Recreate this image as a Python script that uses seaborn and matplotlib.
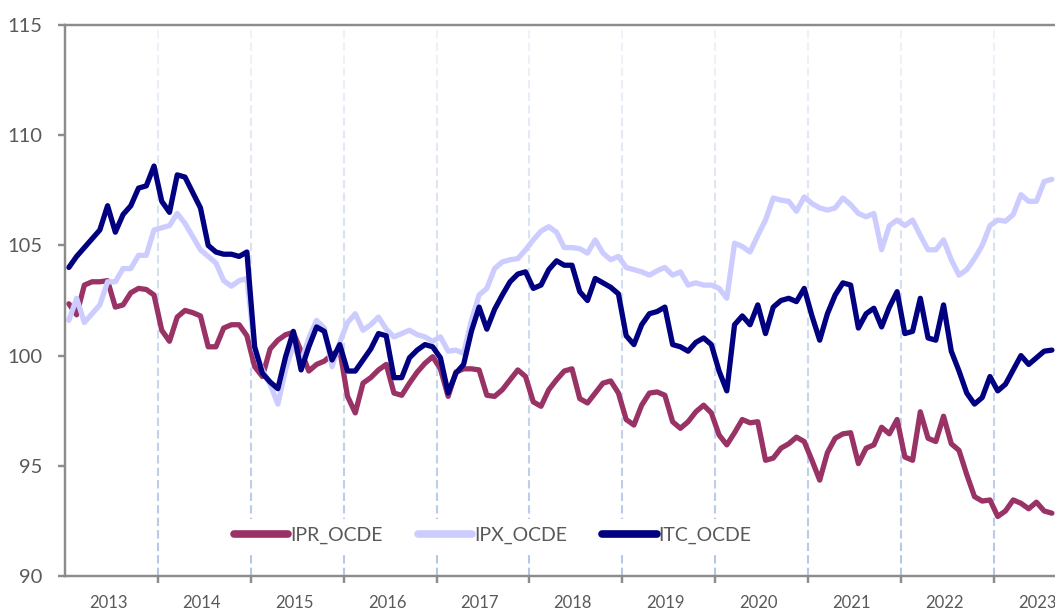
import numpy as np
import pandas as pd
import seaborn as sns
import matplotlib
matplotlib.use('Agg')
import matplotlib.pyplot as plt

# monthly index values, Jan 2013 -> Aug 2023
ipr_ocde = [102.35, 101.85, 103.2, 103.35, 103.35, 103.4, 102.2, 102.3, 102.85, 103.05, 103.0, 102.75,
            101.15, 100.65, 101.75, 102.05, 101.95, 101.8, 100.4, 100.4, 101.25, 101.4, 101.4, 100.9,
            99.5, 99.05, 100.3, 100.7, 100.95, 101.05, 100.2, 99.3, 99.6, 99.75, 100.05, 100.25,
            98.15, 97.4, 98.75, 99.0, 99.35, 99.6, 98.3, 98.2, 98.75, 99.25, 99.65, 99.95,
            99.4, 98.15, 99.25, 99.4, 99.4, 99.35, 98.2, 98.15, 98.45, 98.9, 99.35, 99.05,
            97.9, 97.7, 98.45, 98.9, 99.3, 99.4, 98.05, 97.85, 98.3, 98.75, 98.85, 98.3,
            97.1, 96.85, 97.75, 98.3, 98.35, 98.2, 97.0, 96.7, 97.0, 97.45, 97.75, 97.4,
            96.4, 95.95, 96.5, 97.1, 96.95, 97.0, 95.25, 95.35, 95.8, 96.0, 96.3, 96.1,
            95.25, 94.35, 95.6, 96.25, 96.45, 96.5, 95.1, 95.8, 95.95, 96.75, 96.45, 97.1,
            95.4, 95.25, 97.45, 96.25, 96.1, 97.25, 96.0, 95.7, 94.6, 93.6, 93.4, 93.45,
            92.7, 92.95, 93.45, 93.3, 93.05, 93.35, 92.95, 92.85]

ipx_ocde = [101.6, 102.6, 101.5, 101.9, 102.3, 103.35, 103.35, 103.95, 103.95, 104.55, 104.55, 105.7,
            105.8, 105.9, 106.45, 106.0, 105.4, 104.8, 104.5, 104.2, 103.4, 103.15, 103.4, 103.5,
            100.3, 99.35, 98.7, 97.8, 99.35, 100.5, 99.7, 100.8, 101.6, 101.25, 99.5, 100.6,
            101.5, 101.9, 101.15, 101.4, 101.75, 101.2, 100.85, 101.0, 101.15, 100.95, 100.85, 100.65,
            100.85, 100.2, 100.25, 100.1, 101.6, 102.75, 103.05, 103.95, 104.25, 104.35, 104.4, 104.8,
            105.25, 105.65, 105.85, 105.6, 104.9, 104.9, 104.85, 104.65, 105.25, 104.65, 104.35, 104.5,
            104.0, 103.9, 103.8, 103.65, 103.85, 104.0, 103.65, 103.8, 103.2, 103.3, 103.2, 103.2,
            103.05, 102.6, 105.1, 104.95, 104.7, 105.45, 106.15, 107.15, 107.05, 107.0, 106.55, 107.2,
            106.9, 106.7, 106.6, 106.7, 107.15, 106.85, 106.45, 106.3, 106.45, 104.8, 105.9, 106.15,
            105.9, 106.15, 105.45, 104.8, 104.8, 105.25, 104.35, 103.65, 103.9, 104.4, 105.0, 105.9,
            106.15, 106.1, 106.4, 107.3, 107.0, 107.0, 107.9, 108.0]

itc_ocde = [104.0, 104.5, 104.9, 105.3, 105.7, 106.8, 105.6, 106.4, 106.8, 107.6, 107.7, 108.6,
            107.0, 106.5, 108.2, 108.1, 107.4, 106.7, 105.0, 104.7, 104.6, 104.6, 104.5, 104.7,
            100.4, 99.2, 98.8, 98.5, 99.95, 101.1, 99.35, 100.4, 101.3, 101.1, 99.8, 100.5,
            99.3, 99.3, 99.8, 100.3, 101.0, 100.9, 99.0, 99.0, 99.9, 100.25, 100.5, 100.4,
            99.9, 98.3, 99.2, 99.6, 101.1, 102.2, 101.2, 102.1, 102.75, 103.35, 103.7, 103.8,
            103.05, 103.2, 103.9, 104.3, 104.1, 104.1, 102.9, 102.5, 103.5, 103.3, 103.1, 102.8,
            100.9, 100.5, 101.4, 101.9, 102.0, 102.2, 100.5, 100.4, 100.2, 100.6, 100.8, 100.5,
            99.3, 98.4, 101.4, 101.8, 101.4, 102.3, 101.0, 102.2, 102.5, 102.6, 102.45, 103.05,
            101.8, 100.7, 101.9, 102.75, 103.3, 103.2, 101.25, 101.9, 102.15, 101.3, 102.2, 102.9,
            101.0, 101.1, 102.6, 100.8, 100.7, 102.3, 100.2, 99.3, 98.3, 97.8, 98.1, 99.05,
            98.4, 98.7, 99.35, 100.0, 99.6, 99.9, 100.2, 100.25]

years = list(range(2013, 2024))
series_names = ['IPR_OCDE', 'IPX_OCDE', 'ITC_OCDE']
colors = ['#993366', '#CCCCFF', '#000080']

n = len(itc_ocde)
df = pd.DataFrame({'mes': np.arange(n), 'IPR_OCDE': ipr_ocde, 'IPX_OCDE': ipx_ocde, 'ITC_OCDE': itc_ocde})
long_df = df.melt(id_vars='mes', var_name='serie', value_name='valor')

sns.set_theme(style='white')
plt.rcParams['font.family'] = ['Lato', 'DejaVu Sans']

fig = plt.figure(figsize=(10.55, 6.13), dpi=100)
ax = fig.add_axes([65 / 1055, 37 / 613, 990 / 1055, 551 / 613])

grey = '#8c8c8c'
xmin, xmax = -0.5, 127.4

# dashed year separators, fading to white at the top
year_bounds = [12 * k - 0.5 for k in range(1, len(years))]
for xb in year_bounds:
    ax.axvline(xb, color='#b4c7e7', lw=1.5, ls=(0, (4, 2)), zorder=1)
grad = np.ones((200, 1, 4))
grad[:, 0, 3] = np.linspace(0.8, 0.0, 200)
ax.imshow(grad, extent=[xmin, xmax, 90, 115], aspect='auto', zorder=1.5, interpolation='bilinear')

sns.lineplot(data=long_df, x='mes', y='valor', hue='serie', hue_order=series_names,
             palette=colors, linewidth=3.8, ax=ax, zorder=3, legend=False)

ax.set_xlim(xmin, xmax)
ax.set_ylim(90, 115)
ax.set_xlabel('')
ax.set_ylabel('')

ax.set_yticks(range(90, 116, 5))
ax.set_xticks(year_bounds)
ax.set_xticklabels([])
ax.set_xticks([12 * k + 5.1 for k in range(len(years))], minor=True)
ax.set_xticklabels([str(y) for y in years], minor=True)

ax.tick_params(axis='y', which='major', direction='out', length=5, width=1.75, color=grey,
               labelsize=14.5, labelcolor='#595959', pad=11, left=True)
ax.tick_params(axis='x', which='major', direction='out', length=5, width=1.75, color=grey, bottom=True)
ax.tick_params(axis='x', which='minor', length=0, labelsize=12, labelcolor='#595959', pad=14)

for side in ['left', 'top', 'bottom']:
    ax.spines[side].set_color(grey)
    ax.spines[side].set_linewidth(1.75)
    ax.spines[side].set_zorder(4)
ax.spines['right'].set_visible(False)

handles = [plt.Line2D([], [], color=c, lw=5.5, solid_capstyle='round') for c in colors]
leg = ax.legend(handles, series_names, loc='center', bbox_to_anchor=(0.432, 0.074), ncol=3,
                frameon=True, facecolor='white', edgecolor='none', framealpha=1, fancybox=False,
                fontsize=14, handlelength=2.8, handletextpad=0.1, columnspacing=1.8,
                borderpad=0.4, borderaxespad=0)
for t in leg.get_texts():
    t.set_color('#595959')
leg.set_zorder(5)

fig.savefig('out.png', dpi=100)
